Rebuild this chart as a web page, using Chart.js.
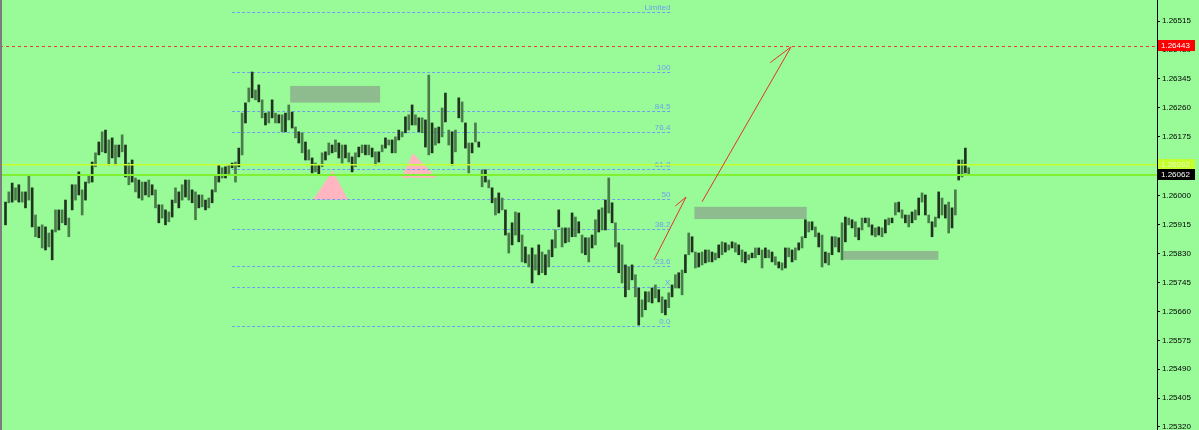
<!DOCTYPE html>
<html>
<head>
<meta charset="utf-8">
<script src="https://cdn.jsdelivr.net/npm/chart.js@4/dist/chart.umd.min.js"></script>
<style>
  html, body { margin: 0; padding: 0; background: #98fb98; }
  #wrap { width: 1199px; height: 430px; position: relative; }
</style>
</head>
<body>
<div id="wrap"><canvas id="chart"></canvas></div>
<script>
// bar highs / lows, one per bar, left to right
const barHigh = [
  1.25982, 1.26012, 1.26038, 1.26024, 1.26033, 1.26012, 1.26012, 1.26062, 1.26024, 1.25944,
  1.25909, 1.25915, 1.25909, 1.25891, 1.25900, 1.25959, 1.25959, 1.25959, 1.25988, 1.25935,
  1.26033, 1.26033, 1.26071, 1.26018, 1.26041, 1.26062, 1.26100, 1.26127, 1.26159, 1.26189,
  1.26194, 1.26165, 1.26171, 1.26150, 1.26150, 1.26180, 1.26150, 1.26097, 1.26106, 1.26053,
  1.26047, 1.26041, 1.26041, 1.26047, 1.26033, 1.26018, 1.25974, 1.25974, 1.25959, 1.25953,
  1.25988, 1.26024, 1.26012, 1.26033, 1.26047, 1.26047, 1.26018, 1.26012, 1.26003, 1.26003,
  1.25988, 1.25994, 1.26018, 1.26062, 1.26091, 1.26083, 1.26086, 1.26091, 1.26097, 1.26100, 1.26141,
  1.26244, 1.26274, 1.26318, 1.26365, 1.26312, 1.26327, 1.26283, 1.26244, 1.26247, 1.26283,
  1.26244, 1.26239, 1.26239, 1.26244, 1.26268, 1.26247, 1.26203, 1.26189, 1.26186, 1.26159,
  1.26136, 1.26112, 1.26097, 1.26091, 1.26127, 1.26130, 1.26156, 1.26150, 1.26165, 1.26156,
  1.26150, 1.26150, 1.26127, 1.26115, 1.26127, 1.26144, 1.26150, 1.26150, 1.26150, 1.26141,
  1.26130, 1.26130, 1.26150, 1.26171, 1.26165, 1.26165, 1.26174, 1.26194, 1.26189, 1.26233,
  1.26239, 1.26268, 1.26239, 1.26230, 1.26230, 1.26224, 1.26356, 1.26215, 1.26200, 1.26203,
  1.26259, 1.26303, 1.26194, 1.26189, 1.26194, 1.26289, 1.26277, 1.26215, 1.26156, 1.26156, 1.26215, 1.26159,
  1.26077, 1.26077, 1.26047, 1.26024, 1.25994, 1.26009, 1.25994, 1.25959, 1.25891, 1.25921,
  1.25953, 1.25950, 1.25885, 1.25850, 1.25827, 1.25847, 1.25827, 1.25856, 1.25835, 1.25827,
  1.25841, 1.25871, 1.25900, 1.25959, 1.25906, 1.25906, 1.25906, 1.25950, 1.25938, 1.25924,
  1.25885, 1.25877, 1.25877, 1.25885, 1.25930, 1.25959, 1.25965, 1.25988, 1.26053, 1.25980,
  1.25921, 1.25862, 1.25856, 1.25797, 1.25791, 1.25797, 1.25768, 1.25729, 1.25694, 1.25718,
  1.25718, 1.25729, 1.25738, 1.25724, 1.25703, 1.25694, 1.25715, 1.25738, 1.25768, 1.25774,
  1.25782, 1.25827, 1.25891, 1.25880, 1.25835, 1.25832, 1.25835, 1.25841, 1.25841, 1.25835, 1.25832, 1.25856,
  1.25865, 1.25862, 1.25856, 1.25865, 1.25862, 1.25856, 1.25841, 1.25835, 1.25827, 1.25832,
  1.25847, 1.25847, 1.25841, 1.25847, 1.25841, 1.25835, 1.25821, 1.25806, 1.25803, 1.25847,
  1.25847, 1.25841, 1.25847, 1.25862, 1.25880, 1.25930, 1.25924, 1.25924, 1.25909, 1.25891,
  1.25885, 1.25835, 1.25832, 1.25880, 1.25880, 1.25877, 1.25921, 1.25938, 1.25935, 1.25930,
  1.25924, 1.25906, 1.25935, 1.25935, 1.25935, 1.25915, 1.25906, 1.25909, 1.25906, 1.25930,
  1.25935, 1.25935, 1.25980, 1.25982, 1.25959, 1.25944, 1.25944, 1.25953, 1.25959, 1.25994,
  1.26009, 1.26003, 1.25944, 1.25924, 1.25938, 1.26012, 1.25994, 1.25974, 1.25982, 1.25965,
  1.26018, 1.26106, 1.26106, 1.26141, 1.26083
];

const barLow = [
  1.25915, 1.25980, 1.25982, 1.25988, 1.25982, 1.25982, 1.25965, 1.25988, 1.25909, 1.25880,
  1.25877, 1.25847, 1.25841, 1.25850, 1.25812, 1.25894, 1.25900, 1.25921, 1.25915, 1.25880,
  1.25959, 1.25988, 1.26003, 1.25944, 1.25988, 1.26038, 1.26041, 1.26086, 1.26121, 1.26130,
  1.26127, 1.26091, 1.26112, 1.26091, 1.26115, 1.26130, 1.26056, 1.26033, 1.26041, 1.26012,
  1.25994, 1.25988, 1.26003, 1.25997, 1.26003, 1.25965, 1.25921, 1.25935, 1.25915, 1.25924,
  1.25938, 1.25980, 1.25965, 1.25988, 1.25997, 1.25988, 1.25980, 1.25930, 1.25965, 1.25968,
  1.25959, 1.25965, 1.25980, 1.26012, 1.26041, 1.26053, 1.26053, 1.26062, 1.26083, 1.26041, 1.26086,
  1.26121, 1.26215, 1.26277, 1.26289, 1.26283, 1.26277, 1.26230, 1.26209, 1.26215, 1.26230,
  1.26215, 1.26215, 1.26189, 1.26189, 1.26224, 1.26200, 1.26171, 1.26156, 1.26127, 1.26106,
  1.26106, 1.26068, 1.26071, 1.26062, 1.26086, 1.26106, 1.26121, 1.26127, 1.26130, 1.26112,
  1.26097, 1.26112, 1.26100, 1.26071, 1.26086, 1.26115, 1.26127, 1.26121, 1.26121, 1.26115,
  1.26091, 1.26100, 1.26130, 1.26141, 1.26150, 1.26127, 1.26127, 1.26165, 1.26174, 1.26186,
  1.26194, 1.26209, 1.26209, 1.26189, 1.26186, 1.26144, 1.26121, 1.26127, 1.26150, 1.26156,
  1.26174, 1.26218, 1.26150, 1.26091, 1.26130, 1.26230, 1.26218, 1.26141, 1.26068, 1.26127, 1.26159, 1.26144,
  1.26027, 1.26041, 1.26024, 1.25980, 1.25944, 1.25950, 1.25959, 1.25885, 1.25832, 1.25856,
  1.25885, 1.25865, 1.25806, 1.25803, 1.25791, 1.25744, 1.25782, 1.25768, 1.25774, 1.25768,
  1.25791, 1.25821, 1.25847, 1.25909, 1.25850, 1.25862, 1.25865, 1.25880, 1.25880, 1.25891,
  1.25832, 1.25827, 1.25806, 1.25847, 1.25856, 1.25894, 1.25900, 1.25900, 1.25950, 1.25921,
  1.25850, 1.25774, 1.25744, 1.25703, 1.25724, 1.25753, 1.25703, 1.25620, 1.25644, 1.25665,
  1.25688, 1.25685, 1.25700, 1.25688, 1.25656, 1.25650, 1.25671, 1.25703, 1.25729, 1.25729,
  1.25709, 1.25774, 1.25827, 1.25835, 1.25788, 1.25791, 1.25797, 1.25803, 1.25806, 1.25806, 1.25812, 1.25818,
  1.25827, 1.25835, 1.25841, 1.25847, 1.25835, 1.25827, 1.25806, 1.25803, 1.25812, 1.25818,
  1.25818, 1.25827, 1.25788, 1.25818, 1.25818, 1.25806, 1.25797, 1.25788, 1.25782, 1.25788,
  1.25821, 1.25806, 1.25812, 1.25841, 1.25847, 1.25877, 1.25894, 1.25900, 1.25880, 1.25850,
  1.25791, 1.25803, 1.25797, 1.25827, 1.25850, 1.25835, 1.25812, 1.25865, 1.25915, 1.25906,
  1.25880, 1.25871, 1.25900, 1.25921, 1.25909, 1.25885, 1.25880, 1.25885, 1.25880, 1.25891,
  1.25915, 1.25921, 1.25944, 1.25953, 1.25935, 1.25921, 1.25909, 1.25921, 1.25930, 1.25944,
  1.25982, 1.25944, 1.25921, 1.25880, 1.25909, 1.25935, 1.25944, 1.25935, 1.25891, 1.25906,
  1.25944, 1.26047, 1.26056, 1.26068, 1.26062
];

// price axis
const yMin = 1.25311;
const yMax = 1.26577;
const yTicks = [
  1.26515, 1.26430, 1.26345, 1.26260, 1.26175, 1.26090, 1.26000,
  1.25915, 1.25830, 1.25745, 1.25660, 1.25575, 1.25490, 1.25405, 1.25320
];
const xMin = -1.65;
const xMax = 345.5;

// horizontal levels
const redLevel = 1.26443;
const yellowLevel = 1.26092;
const greenLevel = 1.26062;

// fibonacci
const fibStart = 68;
const fibEnd = 199.5;
const fib0 = 1.25616;
const fib100 = 1.26365;
const fibLevels = [0, 15.5, 23.6, 38.2, 50, 61.8, 76.4, 84.5, 100, 123.6];
const fibLabels = ["0.0", "X", "23.6", "38.2", "50", "61.8", "76.4", "84.5", "100", "Limited"];

// rectangles
const rectX1 = [85.4, 206.7, 251.4];
const rectX2 = [112.4, 240.4, 279.9];
const rectTop = [1.26324, 1.25968, 1.25838];
const rectBottom = [1.26275, 1.25932, 1.25812];

// triangles
const triApexX = [98.2, 122.2];
const triApexY = [1.26074, 1.26126];
const triLeftX = [92.2, 118.9];
const triRightX = [102.8, 129.4];
const triBaseY = [1.25988, 1.26054];

// arrowed trend lines
const arrowX1 = [194.6, 209.0];
const arrowY1 = [1.25812, 1.25983];
const arrowX2 = [204.2, 235.7];
const arrowY2 = [1.25997, 1.26439];

const FONT = "'Liberation Sans', Arial, sans-serif";
const FIB_COLOR = "#6f9ff0";

const overlay = {
  id: "overlay",
  beforeDatasetsDraw(chart) {
    const { ctx, scales: { x, y } } = chart;
    ctx.save();

    ctx.fillStyle = "#8fbc8f";
    rectX1.forEach((_, i) => {
      const l = x.getPixelForValue(rectX1[i]);
      const r = x.getPixelForValue(rectX2[i]);
      const t = y.getPixelForValue(rectTop[i]);
      const b = y.getPixelForValue(rectBottom[i]);
      ctx.fillRect(l, t, r - l, b - t);
    });

    ctx.fillStyle = "#ffb6c1";
    triApexX.forEach((_, i) => {
      ctx.beginPath();
      ctx.moveTo(x.getPixelForValue(triApexX[i]), y.getPixelForValue(triApexY[i]));
      ctx.lineTo(x.getPixelForValue(triRightX[i]), y.getPixelForValue(triBaseY[i]));
      ctx.lineTo(x.getPixelForValue(triLeftX[i]), y.getPixelForValue(triBaseY[i]));
      ctx.closePath();
      ctx.fill();
    });

    const fx1 = x.getPixelForValue(fibStart);
    const fx2 = x.getPixelForValue(fibEnd);
    ctx.strokeStyle = FIB_COLOR;
    ctx.fillStyle = FIB_COLOR;
    ctx.lineWidth = 1;
    ctx.setLineDash([3, 2]);
    ctx.font = "8px " + FONT;
    ctx.textAlign = "right";
    ctx.textBaseline = "alphabetic";
    fibLevels.forEach((lv, i) => {
      const py = Math.round(y.getPixelForValue(fib0 + (fib100 - fib0) * lv / 100)) + 0.5;
      ctx.beginPath();
      ctx.moveTo(fx1, py);
      ctx.lineTo(fx2, py);
      ctx.stroke();
      ctx.fillText(fibLabels[i], fx2, py - 2.5);
    });
    ctx.restore();
  },

  afterDatasetsDraw(chart) {
    const { ctx, chartArea: a, scales: { x, y } } = chart;
    ctx.save();

    // red dotted level
    let py = Math.round(y.getPixelForValue(redLevel)) + 0.5;
    ctx.strokeStyle = "#e2402a";
    ctx.lineWidth = 1;
    ctx.setLineDash([3, 3]);
    ctx.beginPath();
    ctx.moveTo(a.left, py);
    ctx.lineTo(a.right, py);
    ctx.stroke();
    ctx.setLineDash([]);

    py = y.getPixelForValue(yellowLevel);
    ctx.strokeStyle = "#c4ff2e";
    ctx.lineWidth = 1.5;
    ctx.beginPath();
    ctx.moveTo(a.left, py);
    ctx.lineTo(a.right, py);
    ctx.stroke();

    py = y.getPixelForValue(greenLevel);
    ctx.strokeStyle = "#80f030";
    ctx.lineWidth = 2;
    ctx.beginPath();
    ctx.moveTo(a.left, py);
    ctx.lineTo(a.right, py);
    ctx.stroke();

    // trend arrows
    const barb = [14, 26];
    ctx.strokeStyle = "#e8302a";
    ctx.lineWidth = 1;
    arrowX1.forEach((_, i) => {
      const x1 = x.getPixelForValue(arrowX1[i]), y1 = y.getPixelForValue(arrowY1[i]);
      const x2 = x.getPixelForValue(arrowX2[i]), y2 = y.getPixelForValue(arrowY2[i]);
      const ang = Math.atan2(y1 - y2, x1 - x2) + 0.4;
      ctx.beginPath();
      ctx.moveTo(x1, y1);
      ctx.lineTo(x2, y2);
      ctx.lineTo(x2 + Math.cos(ang) * barb[i], y2 + Math.sin(ang) * barb[i]);
      ctx.stroke();
    });
    ctx.restore();
  },

  afterDraw(chart) {
    const { ctx, chartArea: a, scales: { y } } = chart;
    ctx.save();
    ctx.font = "8px " + FONT;
    ctx.textAlign = "left";
    ctx.textBaseline = "middle";
    const tags = [
      [redLevel, "#ff0000", "#ffffff"],
      [yellowLevel, "#c4ff2e", "#eaffc0"],
      [greenLevel, "#000000", "#ffffff"]
    ];
    tags.forEach(([v, bg, fg]) => {
      const py = y.getPixelForValue(v);
      ctx.fillStyle = bg;
      ctx.fillRect(a.right + 1, Math.round(py) - 6, 37, 11);
      ctx.fillStyle = fg;
      ctx.fillText(v.toFixed(5), a.right + 4, Math.round(py) - 0.5);
    });

    ctx.fillStyle = "#7d7d7d";
    ctx.fillRect(0, 0, 2, chart.height);
    ctx.restore();
  }
};

const bars = barHigh.map((h, i) => ({ x: i, y: [barLow[i], h] }));

new Chart(document.getElementById("chart"), {
  type: "bar",
  data: {
    datasets: [{
      data: bars,
      backgroundColor: ctx => (ctx.dataIndex % 2 ? "#4a7c4a" : "#1f331f"),
      borderWidth: 0,
      barThickness: 2
    }]
  },
  options: {
    responsive: true,
    maintainAspectRatio: false,
    animation: false,
    events: [],
    layout: { padding: 0 },
    plugins: {
      legend: { display: false },
      tooltip: { enabled: false }
    },
    scales: {
      x: {
        type: "linear",
        min: xMin,
        max: xMax,
        offset: false,
        display: false
      },
      y: {
        position: "right",
        min: yMin,
        max: yMax,
        afterBuildTicks: s => { s.ticks = yTicks.map(v => ({ value: v })); },
        afterFit: s => { s.width = 42; s.paddingTop = 0; s.paddingBottom = 0; },
        ticks: {
          autoSkip: false,
          padding: 2,
          color: "#000",
          font: { family: FONT, size: 8 },
          callback: v => v.toFixed(5)
        },
        grid: { drawOnChartArea: false, tickLength: 3, color: "#000" },
        border: { color: "#000" }
      }
    }
  },
  plugins: [overlay]
});
</script>
</body>
</html>
